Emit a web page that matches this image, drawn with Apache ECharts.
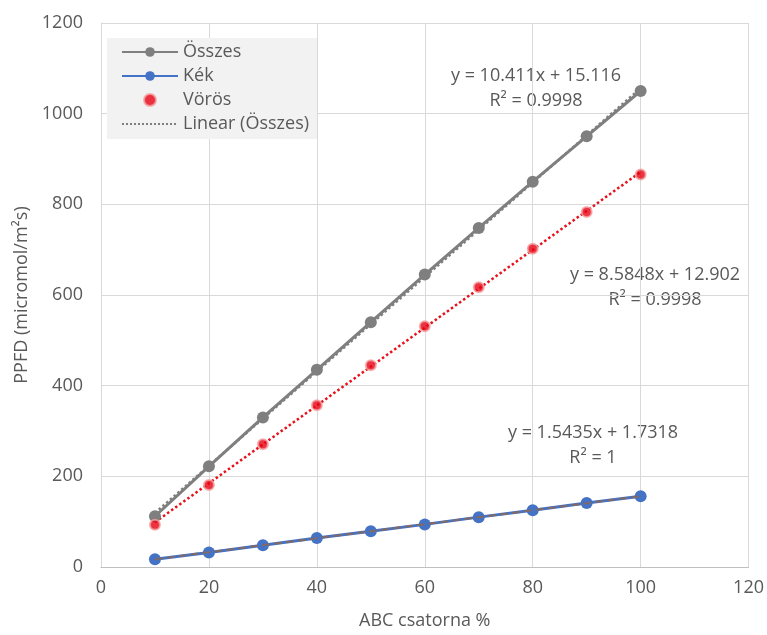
<!DOCTYPE html>
<html>
<head>
<meta charset="utf-8">
<script src="https://cdn.jsdelivr.net/npm/echarts@6/dist/echarts.min.js"></script>
<style>
  html, body { margin: 0; padding: 0; background: #fff; }
  #chart { width: 767px; height: 635px; }
</style>
</head>
<body>
<div id="chart"></div>
<script>
// data
const xValues = [10, 20, 30, 40, 50, 60, 70, 80, 90, 100];
const osszes = [112, 222, 330, 435, 540, 645, 748, 850, 950, 1050];
const kek = [17, 32, 48, 64, 79, 94, 110, 125, 141, 156];
const voros = [93, 181, 271, 357, 445, 531, 617, 702, 783, 866];
// trendline end points (x, y)
const trendOsszes = [[10, 119.2], [100, 1056.2]];
const trendVoros = [[10, 98.7], [100, 871.4]];
const trendKek = [[10, 17.2], [100, 156.1]];
const equations = [
  ['y = 10.411x + 15.116', 'R² = 0.9998'],
  ['y = 8.5848x + 12.902', 'R² = 0.9998'],
  ['y = 1.5435x + 1.7318', 'R² = 1']
];

const font = '"Open Sans", "Liberation Sans", sans-serif';
const fs = 18;
const textColor = '#595959';
const pairs = arr => xValues.map((x, i) => [x, arr[i]]);

const chart = echarts.init(document.getElementById('chart'));

// two-line trendline label, centred at (cx, first line y)
const eqText = (eq, cx, cy) => [0, 1].map(i => ({
  type: 'text',
  x: cx, y: cy + i * 25,
  style: {
    text: eq[i],
    fill: textColor,
    font: fs + 'px ' + font,
    align: 'center',
    verticalAlign: 'middle'
  }
}));

const option = {
  animation: false,
  textStyle: { fontFamily: font },
  grid: { left: 101, right: 16, top: 23, bottom: 67 },
  legend: {
    orient: 'vertical',
    left: 107,
    top: 38,
    backgroundColor: '#f2f2f2',
    padding: [4, 8, 5, 14],
    itemGap: 4,
    itemWidth: 56,
    itemHeight: 12,
    textStyle: { color: textColor, fontSize: fs, fontFamily: font, lineHeight: 20 },
    data: ['Összes', 'Kék', 'Vörös', 'Linear (Összes)']
  },
  xAxis: {
    type: 'value',
    min: 0, max: 120, interval: 20,
    name: 'ABC csatorna %',
    nameLocation: 'middle',
    nameGap: 45,
    nameTextStyle: { color: textColor, fontSize: fs },
    axisLine: { lineStyle: { color: '#bfbfbf' } },
    axisTick: { show: false },
    axisLabel: { color: textColor, fontSize: fs, margin: 12 },
    splitLine: { lineStyle: { color: '#d9d9d9' } }
  },
  yAxis: {
    type: 'value',
    min: 0, max: 1200, interval: 200,
    name: 'PPFD (micromol/m²s)',
    nameLocation: 'middle',
    nameGap: 70,
    nameTextStyle: { color: textColor, fontSize: fs },
    axisLine: { show: true, lineStyle: { color: '#d9d9d9' } },
    axisTick: { show: false },
    axisLabel: { color: textColor, fontSize: fs, margin: 18, formatter: v => String(v) },
    splitLine: { lineStyle: { color: '#d9d9d9' } }
  },
  series: [
    {
      name: 'Kék trend',
      type: 'line',
      data: trendKek,
      symbol: 'none',
      lineStyle: { color: '#7f6a6a', width: 2, type: 'dashed' },
      z: 4
    },
    {
      name: 'Kék',
      type: 'line',
      data: pairs(kek),
      symbol: 'circle',
      symbolSize: 12,
      itemStyle: { color: '#4472c4' },
      lineStyle: { color: '#4472c4', width: 3 },
      z: 3
    },
    {
      name: 'Összes',
      type: 'line',
      data: pairs(osszes),
      symbol: 'circle',
      symbolSize: 12,
      itemStyle: { color: '#7f7f7f' },
      lineStyle: { color: '#7f7f7f', width: 3 },
      z: 3
    },
    {
      name: 'Linear (Összes)',
      type: 'line',
      data: trendOsszes,
      symbol: 'none',
      itemStyle: { color: 'rgba(0,0,0,0)' },
      lineStyle: { color: '#7f7f7f', width: 2.5, type: 'dotted' },
      z: 2
    },
    {
      name: 'Vörös trend',
      type: 'line',
      data: trendVoros,
      symbol: 'none',
      lineStyle: { color: '#e8101a', width: 2.5, type: 'dotted' },
      z: 2
    },
    {
      name: 'Vörös',
      type: 'scatter',
      data: pairs(voros),
      symbol: 'circle',
      symbolSize: 10,
      itemStyle: { color: '#e60012', borderColor: '#f4a0a0', borderWidth: 2 },
      z: 5
    }
  ],
  graphic: [].concat(
    eqText(equations[0], 536, 76),
    eqText(equations[1], 655, 275),
    eqText(equations[2], 593, 433)
  )
};
chart.setOption(option);
</script>
</body>
</html>
